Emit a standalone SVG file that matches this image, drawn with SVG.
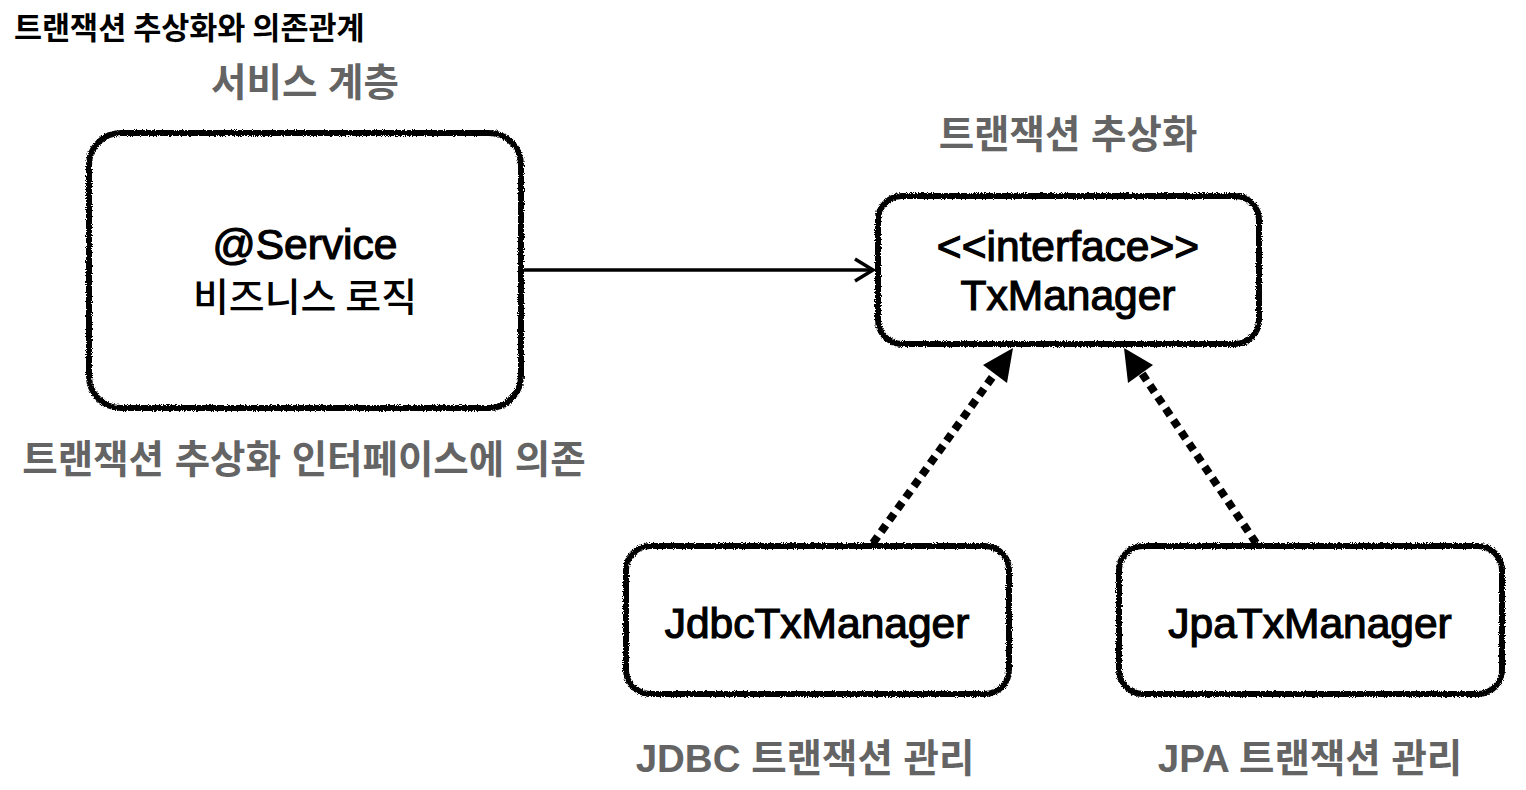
<svg xmlns="http://www.w3.org/2000/svg" width="1526" height="790" viewBox="0 0 1526 790">
  <defs>
    <filter id="rough" x="-5%" y="-5%" width="110%" height="110%">
      <feTurbulence type="fractalNoise" baseFrequency="0.9" numOctaves="2" seed="4" result="n"/>
      <feDisplacementMap in="SourceGraphic" in2="n" scale="4" xChannelSelector="R" yChannelSelector="G"/>
    </filter>
    <style>
      .box { fill: #ffffff; stroke: #000; stroke-width: 6; filter: url(#rough); }
      .title { font-family: "Noto Sans CJK KR", sans-serif; font-weight: 700; font-size: 30.5px; fill: #000; }
      .gray { font-family: "Liberation Sans", "Noto Sans CJK KR", sans-serif; font-weight: 700; font-size: 38.5px; fill: #646464; text-anchor: middle; }
      .lat { font-family: "Liberation Sans", "Noto Sans CJK KR", sans-serif; font-size: 42.5px; fill: #000; stroke: #000; stroke-width: 1.2; text-anchor: middle; }
      .kor { font-family: "Noto Sans CJK KR", sans-serif; font-size: 39px; font-weight: 500; fill: #000; text-anchor: middle; }
      .solid { stroke: #000; stroke-width: 3.5; fill: none; }
      .dots { stroke: #000; stroke-width: 8; stroke-dasharray: 8 6; fill: none; }
    </style>
  </defs>
  <rect width="1526" height="790" fill="#fff"/>

  <text class="title" x="14" y="39">트랜잭션 추상화와 의존관계</text>

  <g id="labels">
    <text class="gray" x="305" y="96">서비스 계층</text>
    <text class="gray" x="1068" y="148">트랜잭션 추상화</text>
    <text class="gray" x="304" y="473">트랜잭션 추상화 인터페이스에 의존</text>
    <text class="gray" x="805" y="772">JDBC 트랜잭션 관리</text>
    <text class="gray" x="1310" y="772">JPA 트랜잭션 관리</text>
  </g>

  <g id="connectors">
    <line class="solid" x1="524" y1="270" x2="872" y2="270"/>
    <polyline class="solid" points="855,259 873,270 855,281" stroke-width="4.5" stroke-linejoin="miter"/>
    <line class="dots" x1="873" y1="543" x2="996" y2="372"/>
    <polygon points="1013,348 983,365 1007,383" fill="#000"/>
    <line class="dots" x1="1256" y1="543" x2="1141" y2="372"/>
    <polygon points="1124,348 1153,365 1128,383" fill="#000"/>
  </g>

  <g id="service">
    <rect class="box" x="89" y="133" width="432" height="275" rx="32" ry="32"/>
    <text class="lat" x="305" y="259">@Service</text>
    <text class="kor" x="305" y="311">비즈니스 로직</text>
  </g>

  <g id="txmanager">
    <rect class="box" x="878" y="196" width="381" height="148" rx="24" ry="24"/>
    <text class="lat" x="1068" y="261">&lt;&lt;interface&gt;&gt;</text>
    <text class="lat" x="1068" y="310">TxManager</text>
  </g>

  <g id="jdbc">
    <rect class="box" x="626" y="546" width="383" height="148" rx="24" ry="24"/>
    <text class="lat" x="817" y="638">JdbcTxManager</text>
  </g>

  <g id="jpa">
    <rect class="box" x="1119" y="546" width="383" height="148" rx="24" ry="24"/>
    <text class="lat" x="1310" y="638">JpaTxManager</text>
  </g>
</svg>
